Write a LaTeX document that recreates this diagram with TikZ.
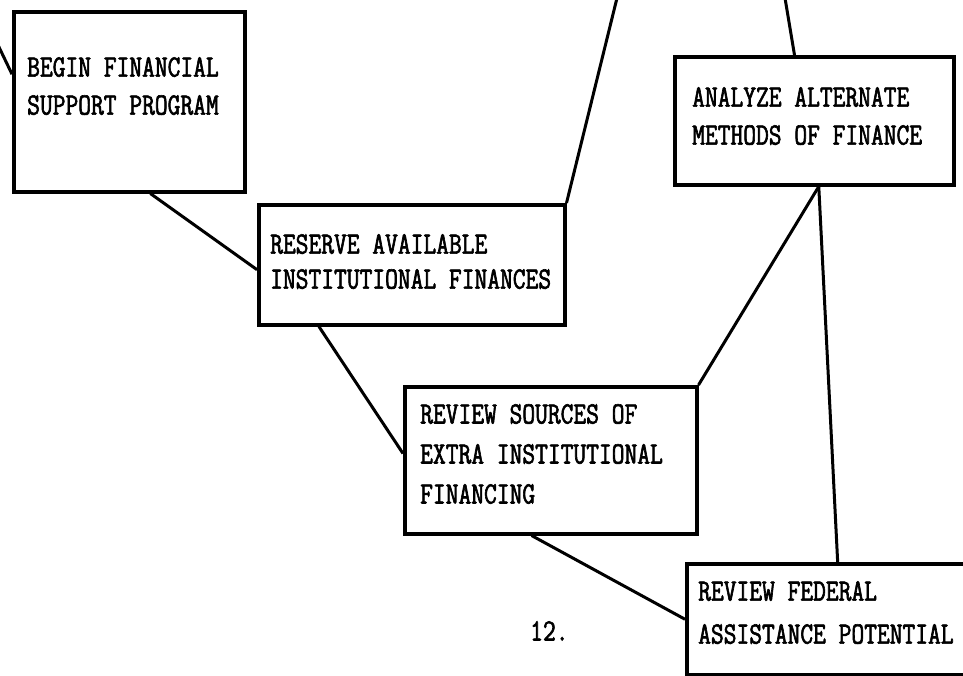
\documentclass[tikz,border=0pt]{standalone}
\usepackage{fontspec}
\newfontfamily\tw[FakeStretch=0.8, FakeBold=2]{Latin Modern Mono}
\usetikzlibrary{calc}
\tikzset{
  stepbox/.style={draw, line width=3.5pt, rectangle, inner sep=0pt, anchor=north west},
  boxtext/.style={font=\tw\fontsize{31}{38}\selectfont, align=left, inner sep=0pt, anchor=north west},
  link/.style={line width=3pt}
}
\begin{document}
\begin{tikzpicture}[x=1pt, y=-1pt]
  \useasboundingbox (0,0) rectangle (963,675);
  \clip (0,0) rectangle (963,675);
  \fill[white] (0,0) rectangle (963,675);

  % boxes
  \node[stepbox, minimum width=231pt, minimum height=180pt] (begin) at (12,10) {};
  \node[stepbox, minimum width=306pt, minimum height=120pt] (reserve) at (257,203) {};
  \node[stepbox, minimum width=292pt, minimum height=147pt] (sources) at (403,385) {};
  \node[stepbox, minimum width=279pt, minimum height=128pt] (analyze) at (673,55) {};
  \node[stepbox, minimum width=300pt, minimum height=111pt] (federal) at (685,562) {};

  % box texts
  \node[boxtext] (t1) at (27,57) {BEGIN FINANCIAL\\SUPPORT PROGRAM};
  \node[boxtext] (t2) at (270,234) {RESERVE AVAILABLE\\[-3pt]INSTITUTIONAL FINANCES};
  \node[boxtext] (t3) at (420,404) {REVIEW SOURCES OF\\[2pt]EXTRA INSTITUTIONAL\\[2pt]FINANCING};
  \node[boxtext] (t4) at (692,87) {ANALYZE ALTERNATE\\METHODS OF FINANCE};
  \node[boxtext] (t5) at (698,581) {REVIEW FEDERAL\\[5pt]ASSISTANCE POTENTIAL};

  % page number
  \node[boxtext] (pg) at (530,621) {12.};

  % free ends of the lines leaving the page
  \coordinate (inleft) at (-2,45);
  \coordinate (uptop) at (617,-2);
  \coordinate (uptop2) at (785,-2);

  % connectors
  \draw[link] (inleft) -- ($(begin.north west)!0.35!(begin.south west)$);
  \draw[link] ($(begin.south west)!0.59!(begin.south east)$) -- ($(reserve.north west)!0.54!(reserve.south west)$);
  \draw[link] (reserve.north east) -- (uptop);
  \draw[link] ($(reserve.south west)!0.2!(reserve.south east)$) -- ($(sources.north west)!0.455!(sources.south west)$);
  \draw[link] (sources.north east) -- ($(analyze.south west)!0.516!(analyze.south east)$);
  \draw[link] ($(analyze.south west)!0.516!(analyze.south east)$) -- ($(federal.north west)!0.503!(federal.north east)$);
  \draw[link] ($(analyze.north west)!0.43!(analyze.north east)$) -- (uptop2);
  \draw[link] ($(sources.south west)!0.435!(sources.south east)$) -- ($(federal.north west)!0.5!(federal.south west)$);
\end{tikzpicture}
\end{document}
